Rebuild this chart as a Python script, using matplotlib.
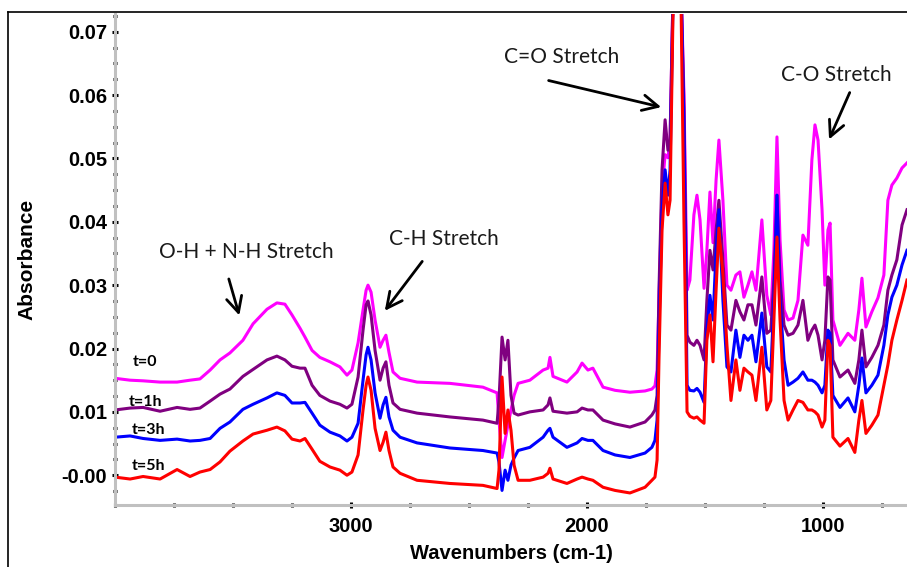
import matplotlib
matplotlib.use("Agg")
import matplotlib.pyplot as plt
from matplotlib.ticker import FixedLocator, MultipleLocator
from matplotlib.lines import Line2D

# ---------------- data ----------------
wavenumber = [4000, 3936, 3881, 3809, 3737, 3682, 3640, 3597, 3555, 3513, 3458, 3415, 3356, 3314, 3280,
              3250, 3216, 3195, 3165, 3132, 3089, 3047, 3017, 2996, 2970, 2949, 2936, 2928, 2915, 2898,
              2877, 2864, 2852, 2839, 2822, 2792, 2720, 2581, 2441, 2381, 2373, 2360, 2347, 2335, 2322,
              2309, 2292, 2242, 2186, 2165, 2157, 2144, 2085, 2042, 2021, 1996, 1975, 1932, 1881, 1818,
              1754, 1725, 1712, 1703, 1695, 1682, 1669, 1657, 1648, 1636, 1619, 1602, 1589, 1576, 1564,
              1547, 1534, 1521, 1504, 1492, 1479, 1466, 1453, 1441, 1424, 1407, 1390, 1369, 1352, 1335,
              1318, 1301, 1284, 1259, 1238, 1221, 1208, 1195, 1182, 1165, 1148, 1127, 1106, 1085, 1064,
              1047, 1034, 1021, 1004, 992, 979, 970, 958, 928, 894, 865, 848, 835, 818, 793,
              767, 742, 725, 708, 687, 665, 644]

abs_t0 = [0.0153, 0.0150, 0.0149, 0.0147, 0.0147, 0.0150, 0.0152, 0.0166, 0.0182, 0.0193, 0.0213, 0.0239, 0.0262, 0.0272, 0.0270,
          0.0253, 0.0232, 0.0218, 0.0197, 0.0186, 0.0179, 0.0171, 0.0158, 0.0166, 0.0209, 0.0261, 0.0292, 0.0300, 0.0289, 0.0245,
          0.0202, 0.0213, 0.0221, 0.0194, 0.0163, 0.0153, 0.0147, 0.0145, 0.0139, 0.0130, 0.0087, 0.0028, 0.0055, 0.0079, 0.0103,
          0.0126, 0.0145, 0.0150, 0.0166, 0.0169, 0.0186, 0.0156, 0.0147, 0.0163, 0.0177, 0.0166, 0.0169, 0.0139, 0.0134, 0.0131,
          0.0133, 0.0136, 0.0141, 0.0166, 0.0276, 0.0450, 0.0506, 0.0501, 0.0529, 0.0750, 0.0900, 0.0780, 0.0600, 0.0292, 0.0308,
          0.0411, 0.0442, 0.0403, 0.0295, 0.0355, 0.0447, 0.0367, 0.0466, 0.0529, 0.0434, 0.0300, 0.0292, 0.0316, 0.0321, 0.0281,
          0.0300, 0.0321, 0.0292, 0.0403, 0.0284, 0.0253, 0.0355, 0.0534, 0.0371, 0.0261, 0.0245, 0.0248, 0.0276, 0.0379, 0.0363,
          0.0498, 0.0553, 0.0529, 0.0419, 0.0300, 0.0387, 0.0398, 0.0245, 0.0205, 0.0224, 0.0213, 0.0261, 0.0311, 0.0234, 0.0258,
          0.0280, 0.0316, 0.0434, 0.0458, 0.0469, 0.0485, 0.0493]

abs_t1 = [0.0103, 0.0106, 0.0107, 0.0101, 0.0107, 0.0104, 0.0106, 0.0117, 0.0128, 0.0136, 0.0156, 0.0167, 0.0182, 0.0188, 0.0182,
          0.0172, 0.0169, 0.0169, 0.0142, 0.0126, 0.0117, 0.0112, 0.0106, 0.0112, 0.0155, 0.0229, 0.0269, 0.0275, 0.0253, 0.0197,
          0.0150, 0.0169, 0.0179, 0.0142, 0.0114, 0.0104, 0.0098, 0.0092, 0.0087, 0.0082, 0.0118, 0.0218, 0.0182, 0.0213, 0.0126,
          0.0098, 0.0095, 0.0100, 0.0103, 0.0111, 0.0122, 0.0101, 0.0098, 0.0100, 0.0106, 0.0103, 0.0103, 0.0087, 0.0081, 0.0076,
          0.0084, 0.0095, 0.0103, 0.0126, 0.0292, 0.0482, 0.0561, 0.0513, 0.0529, 0.0750, 0.0900, 0.0780, 0.0580, 0.0221, 0.0210,
          0.0205, 0.0213, 0.0205, 0.0182, 0.0276, 0.0355, 0.0324, 0.0387, 0.0434, 0.0340, 0.0237, 0.0229, 0.0276, 0.0258, 0.0245,
          0.0269, 0.0269, 0.0237, 0.0313, 0.0224, 0.0229, 0.0308, 0.0442, 0.0308, 0.0237, 0.0221, 0.0224, 0.0237, 0.0276, 0.0213,
          0.0229, 0.0237, 0.0221, 0.0182, 0.0213, 0.0313, 0.0308, 0.0182, 0.0155, 0.0166, 0.0145, 0.0182, 0.0229, 0.0171, 0.0186,
          0.0205, 0.0237, 0.0292, 0.0316, 0.0340, 0.0395, 0.0419]

abs_t3 = [0.0060, 0.0062, 0.0058, 0.0055, 0.0057, 0.0054, 0.0055, 0.0058, 0.0074, 0.0084, 0.0104, 0.0112, 0.0122, 0.0130, 0.0126,
          0.0114, 0.0114, 0.0115, 0.0098, 0.0079, 0.0068, 0.0062, 0.0054, 0.0060, 0.0082, 0.0150, 0.0190, 0.0202, 0.0182, 0.0130,
          0.0090, 0.0111, 0.0123, 0.0092, 0.0071, 0.0060, 0.0051, 0.0043, 0.0039, 0.0035, 0.0021, -0.0024, 0.0008, -0.0008, 0.0016,
          0.0027, 0.0039, 0.0044, 0.0060, 0.0071, 0.0074, 0.0060, 0.0044, 0.0051, 0.0058, 0.0055, 0.0055, 0.0039, 0.0032, 0.0028,
          0.0035, 0.0044, 0.0055, 0.0087, 0.0229, 0.0419, 0.0482, 0.0442, 0.0482, 0.0740, 0.0900, 0.0780, 0.0550, 0.0142, 0.0134,
          0.0133, 0.0137, 0.0131, 0.0115, 0.0229, 0.0284, 0.0245, 0.0355, 0.0419, 0.0276, 0.0171, 0.0163, 0.0229, 0.0186, 0.0221,
          0.0213, 0.0221, 0.0179, 0.0256, 0.0171, 0.0163, 0.0276, 0.0442, 0.0276, 0.0182, 0.0142, 0.0147, 0.0153, 0.0163, 0.0150,
          0.0150, 0.0147, 0.0142, 0.0130, 0.0142, 0.0229, 0.0224, 0.0126, 0.0107, 0.0122, 0.0100, 0.0142, 0.0185, 0.0130, 0.0142,
          0.0158, 0.0205, 0.0253, 0.0281, 0.0300, 0.0332, 0.0355]

abs_t5 = [-0.0003, -0.0006, -0.0002, -0.0006, 0.0009, -0.0002, 0.0005, 0.0009, 0.0021, 0.0038, 0.0054, 0.0065, 0.0071, 0.0076, 0.0070,
          0.0057, 0.0054, 0.0058, 0.0041, 0.0022, 0.0013, 0.0008, 0.0000, 0.0005, 0.0032, 0.0103, 0.0142, 0.0155, 0.0134, 0.0074,
          0.0039, 0.0052, 0.0068, 0.0039, 0.0013, 0.0003, -0.0008, -0.0013, -0.0016, -0.0021, 0.0008, 0.0155, 0.0066, 0.0103, 0.0071,
          0.0016, -0.0008, -0.0008, -0.0003, 0.0003, 0.0011, -0.0006, -0.0013, -0.0006, -0.0003, -0.0006, -0.0008, -0.0019, -0.0024, -0.0028,
          -0.0019, -0.0008, -0.0003, 0.0024, 0.0182, 0.0387, 0.0461, 0.0411, 0.0434, 0.0720, 0.0900, 0.0760, 0.0400, 0.0100, 0.0093,
          0.0090, 0.0092, 0.0087, 0.0082, 0.0213, 0.0253, 0.0179, 0.0292, 0.0390, 0.0316, 0.0205, 0.0118, 0.0182, 0.0134, 0.0169,
          0.0163, 0.0158, 0.0118, 0.0202, 0.0103, 0.0118, 0.0245, 0.0376, 0.0245, 0.0118, 0.0087, 0.0103, 0.0118, 0.0115, 0.0103,
          0.0103, 0.0100, 0.0095, 0.0076, 0.0087, 0.0213, 0.0205, 0.0060, 0.0046, 0.0058, 0.0036, 0.0087, 0.0118, 0.0066, 0.0079,
          0.0095, 0.0142, 0.0174, 0.0213, 0.0245, 0.0276, 0.0308]

series_names = ["t=0", "t=1h", "t=3h", "t=5h"]
series_values = [abs_t0, abs_t1, abs_t3, abs_t5]
series_colors = ["#FF00FF", "#800080", "#0000FF", "#FF0000"]

y_ticks = [0.00, 0.01, 0.02, 0.03, 0.04, 0.05, 0.06, 0.07]
y_tick_labels = ["-0.00", "0.01", "0.02", "0.03", "0.04", "0.05", "0.06", "0.07"]
x_ticks = [3000, 2000, 1000]
x_tick_labels = ["3000", "2000", "1000"]

annotations = [
    ("O-H + N-H Stretch", (3445, 0.0352), (3521, 0.0314), (3470, 0.0248)),
    ("C-H Stretch", (2606, 0.0373), (2691, 0.0341), (2864, 0.0256)),
    ("C=O Stretch", (2106, 0.0660), (2174, 0.0624), (1674, 0.0580)),
    ("C-O Stretch", (945, 0.0632), (882, 0.0608), (979, 0.0526)),
]
label_positions = [(3873, 0.0179), (3869, 0.0115), (3860, 0.0071), (3856, 0.0014)]

# ---------------- figure ----------------
fig = plt.figure(figsize=(9.07, 5.67), dpi=100)
ax = fig.add_axes([115 / 907, (567 - 505) / 567, (907 - 115) / 907, (505 - 14) / 567])

for vals, col in zip(series_values, series_colors):
    ax.plot(wavenumber, vals, color=col, lw=2.2, solid_joinstyle="round")

ax.set_xlim(4000, 644)
ax.set_ylim(-0.0047, 0.0728)

for s in ("top", "right"):
    ax.spines[s].set_visible(False)
for s in ("left", "bottom"):
    ax.spines[s].set_color("#c0c0c0")
    ax.spines[s].set_linewidth(2.2)

ax.yaxis.set_major_locator(FixedLocator(y_ticks))
ax.set_yticklabels(y_tick_labels)
ax.yaxis.set_minor_locator(MultipleLocator(0.0025))
ax.xaxis.set_major_locator(FixedLocator(x_ticks))
ax.set_xticklabels(x_tick_labels)
ax.xaxis.set_minor_locator(MultipleLocator(250))

ax.tick_params(which="major", direction="inout", length=5, width=2.2, color="black")
ax.tick_params(axis="x", which="major", pad=6)
ax.tick_params(axis="y", which="major", pad=3)
ax.tick_params(which="minor", direction="inout", length=2.5, width=2.2, color="black")
for lab in ax.get_xticklabels() + ax.get_yticklabels():
    lab.set_fontfamily("Liberation Sans")
    lab.set_fontweight("bold")
    lab.set_fontsize(14.5)

ax.set_xlabel("Wavenumbers (cm-1)", fontfamily="Liberation Sans", fontweight="bold", fontsize=14.5, labelpad=6)
ax.set_ylabel("Absorbance", fontfamily="Liberation Sans", fontweight="bold", fontsize=15, labelpad=18)

for text, tpos, a0, a1 in annotations:
    ax.text(tpos[0], tpos[1], text, fontfamily="Lato", fontsize=15, ha="center", va="center", color="#1a1a1a")
    ax.annotate("", xy=a1, xytext=a0,
                arrowprops=dict(arrowstyle="->", lw=2.0, color="black", mutation_scale=28))

for name, pos in zip(series_names, label_positions):
    ax.text(pos[0], pos[1], name, fontfamily="Lato", fontweight="bold", fontsize=11.5,
            ha="center", va="center", color="black")

# outer frame (left and top edges visible in the crop)
fx = 8 / 907
fy = (567 - 12) / 567
fig.add_artist(Line2D([fx, fx], [0, fy], transform=fig.transFigure, color="black", lw=1.2))
fig.add_artist(Line2D([fx, 1], [fy, fy], transform=fig.transFigure, color="black", lw=1.2))

fig.savefig("out.png", dpi=100)
